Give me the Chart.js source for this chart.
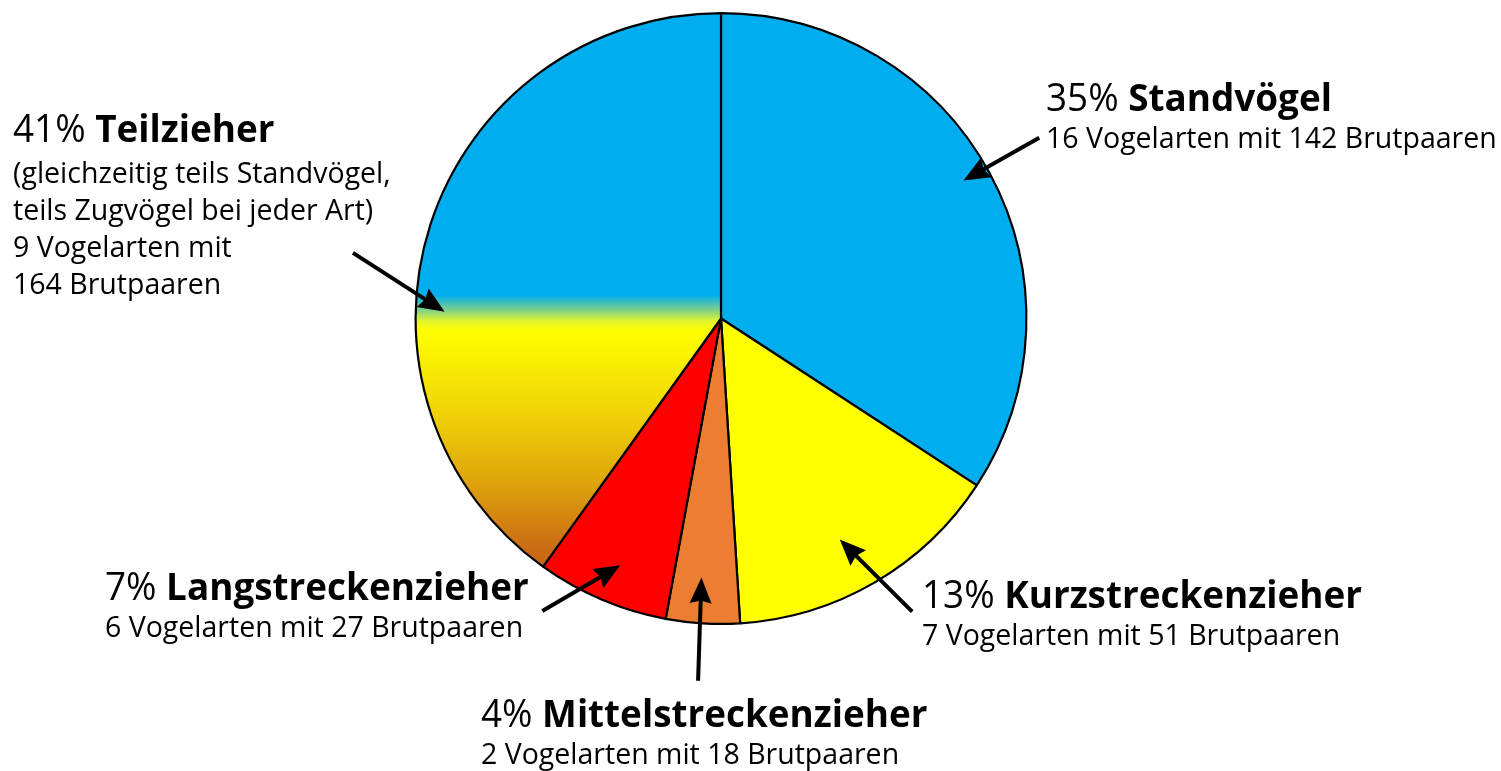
<!DOCTYPE html>
<html lang="de">
<head>
<meta charset="utf-8">
<title>Zugverhalten der Brutvögel</title>
<script src="https://cdn.jsdelivr.net/npm/chart.js@4.4.1/dist/chart.umd.min.js"></script>
<style>
  html, body { margin: 0; padding: 0; background: #ffffff; }
  #wrap { width: 1501px; height: 771px; position: relative; }
</style>
</head>
<body>
<div id="wrap"><canvas id="pieChart"></canvas></div>
<script>
// categories, clockwise from 12 o'clock
const categories = ['Standvögel', 'Kurzstreckenzieher', 'Mittelstreckenzieher', 'Langstreckenzieher', 'Teilzieher'];
// slice shares as drawn in the picture (percent of the circle)
const shares = [34.2, 14.8, 3.9, 7.0, 40.1];
// printed percentages
const percentLabels = ['35%', '13%', '4%', '7%', '41%'];
const speciesCounts = [16, 7, 2, 6, 9];
const breedingPairs = [142, 51, 18, 27, 164];

const sliceColors = ['#00aeef', '#ffff00', '#ed7d31', '#ff0000', null];
const FONT = "'Open Sans', 'Noto Sans', sans-serif";
const SX_TITLE = 0.97; // slight narrowing of the bold headings
const SX_SUB = 1.0;

// gradient of the Teilzieher slice, stops as offsets across the pie height
function teilGradient(chart) {
    const area = chart.chartArea;
    if (!area) return '#00aeef';
    const cy = (area.top + area.bottom) / 2;
    const r = Math.min(area.right - area.left, area.bottom - area.top) / 2;
    const g = chart.ctx.createLinearGradient(0, cy - r, 0, cy + r);
    g.addColorStop(0, '#00aeef');
    g.addColorStop(0.462, '#00aeef');
    g.addColorStop(0.486, '#7fd08a');
    g.addColorStop(0.505, '#e6f52a');
    g.addColorStop(0.52, '#ffff00');
    g.addColorStop(0.655, '#f0d206');
    g.addColorStop(0.765, '#dfa50c');
    g.addColorStop(0.875, '#cb6c14');
    g.addColorStop(1, '#b85516');
    return g;
}

// callouts: arrow tail and tip in units of the pie radius from the centre
const callouts = [
    { tail: [1.042, -0.592], tip: [0.794, -0.452] },
    { tail: [0.626, 0.96],  tip: [0.389, 0.724] },
    { tail: [-0.075, 1.186], tip: [-0.064, 0.848] },
    { tail: [-0.585, 0.958], tip: [-0.330, 0.808] },
    { tail: [-1.205, -0.215], tip: [-0.905, -0.022] }
];

// text blocks: left x, baseline y of title, then baselines of the extra lines
const textBlocks = [
    { x: 1046, y: 111, lines: [[148, speciesCounts[0] + ' Vogelarten mit ' + breedingPairs[0] + ' Brutpaaren']] },
    { x: 922, y: 608, lines: [[645, speciesCounts[1] + ' Vogelarten mit ' + breedingPairs[1] + ' Brutpaaren']] },
    { x: 481, y: 727, lines: [[764, speciesCounts[2] + ' Vogelarten mit ' + breedingPairs[2] + ' Brutpaaren']] },
    { x: 105, y: 600, lines: [[637, speciesCounts[3] + ' Vogelarten mit ' + breedingPairs[3] + ' Brutpaaren']] },
    { x: 13, y: 142, lines: [
        [183, '(gleichzeitig teils Standvögel,'],
        [220, 'teils Zugvögel bei jeder Art)'],
        [257, speciesCounts[4] + ' Vogelarten mit'],
        [294, breedingPairs[4] + ' Brutpaaren']
    ] }
];

function drawText(ctx, text, x, y, font, sx) {
    ctx.save();
    ctx.font = font;
    ctx.translate(x, y);
    ctx.scale(sx, 1);
    ctx.fillText(text, 0, 0);
    const w = ctx.measureText(text).width * sx;
    ctx.restore();
    return w;
}

function drawArrow(ctx, x1, y1, x2, y2) {
    const ang = Math.atan2(y2 - y1, x2 - x1);
    const headLen = 26, headHalf = 11;
    const bx = x2 - headLen * Math.cos(ang);
    const by = y2 - headLen * Math.sin(ang);
    ctx.save();
    ctx.strokeStyle = '#000';
    ctx.fillStyle = '#000';
    ctx.lineWidth = 4;
    ctx.beginPath();
    ctx.moveTo(x1, y1);
    ctx.lineTo(bx + 4 * Math.cos(ang), by + 4 * Math.sin(ang));
    ctx.stroke();
    ctx.beginPath();
    ctx.moveTo(x2, y2);
    ctx.lineTo(bx - headHalf * Math.sin(ang), by + headHalf * Math.cos(ang));
    ctx.lineTo(bx + 3 * Math.cos(ang), by + 3 * Math.sin(ang));
    ctx.lineTo(bx + headHalf * Math.sin(ang), by - headHalf * Math.cos(ang));
    ctx.closePath();
    ctx.fill();
    ctx.restore();
}

const calloutPlugin = {
    id: 'callouts',
    afterDraw(chart) {
        const ctx = chart.ctx;
        const arc = chart.getDatasetMeta(0).data[0];
        const cx = arc.x, cy = arc.y, r = arc.outerRadius;

        callouts.forEach(c => {
            drawArrow(ctx, cx + c.tail[0] * r, cy + c.tail[1] * r, cx + c.tip[0] * r, cy + c.tip[1] * r);
        });

        ctx.save();
        ctx.fillStyle = '#000';
        ctx.textBaseline = 'alphabetic';
        textBlocks.forEach((b, i) => {
            const w = drawText(ctx, percentLabels[i] + ' ', b.x, b.y, '400 38px ' + FONT, SX_TITLE);
            drawText(ctx, categories[i], b.x + w, b.y, '700 38px ' + FONT, SX_TITLE);
            b.lines.forEach(l => drawText(ctx, l[1], b.x, l[0], '400 28.5px ' + FONT, SX_SUB));
        });
        ctx.restore();
    }
};

const ctxPie = document.getElementById('pieChart').getContext('2d');
const pieChart = new Chart(ctxPie, {
    type: 'pie',
    data: {
        labels: categories,
        datasets: [{
            data: shares,
            backgroundColor: function(context) {
                const c = sliceColors[context.dataIndex];
                return c ? c : teilGradient(context.chart);
            },
            borderColor: '#000000',
            borderWidth: 2.2,
            borderAlign: 'center'
        }]
    },
    options: {
        responsive: true,
        maintainAspectRatio: false,
        animation: false,
        events: [],
        layout: {
            padding: { top: 12, bottom: 146, left: 0, right: 59 }
        },
        plugins: {
            legend: { display: false },
            tooltip: { enabled: false },
            title: { display: false }
        }
    },
    plugins: [calloutPlugin]
});
</script>
</body>
</html>
